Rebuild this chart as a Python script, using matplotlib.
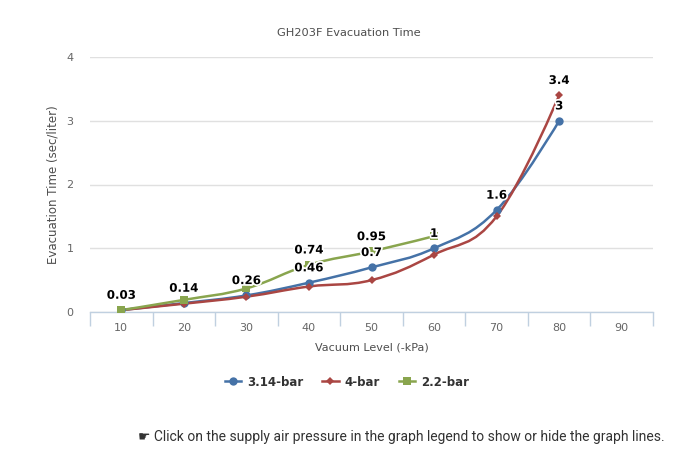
import matplotlib.pyplot as plt
import matplotlib.patheffects as pe
from matplotlib.path import Path
from matplotlib.patches import PathPatch
from matplotlib.lines import Line2D

# Datos
vacuum = [10, 20, 30, 40, 50, 60, 70, 80]
bar_314 = [0.03, 0.14, 0.26, 0.46, 0.7, 1.0, 1.6, 3.0]
bar_4 = [0.03, 0.13, 0.24, 0.4, 0.5, 0.9, 1.5, 3.4]
vacuum_22 = [10, 20, 30, 40, 50, 60]
bar_22 = [0.03, 0.19, 0.37, 0.74, 0.95, 1.19]
x_labels = [10, 20, 30, 40, 50, 60, 70, 80, 90]

# etiquetas visibles: índices de puntos por serie
labels_314 = [0, 1, 2, 3, 4, 5, 6, 7]
labels_4 = [7]
labels_22 = [3, 4]

blue = '#4572A7'
red = '#AA4643'
green = '#89A54E'


def spline_path(xs, ys, smoothing=1.5):
    # curva tipo "spline" con controles Bezier
    denom = smoothing + 1
    verts = [(xs[0], ys[0])]
    codes = [Path.MOVETO]
    ctrl = []
    n = len(xs)
    for i in range(n):
        x, y = xs[i], ys[i]
        if 0 < i < n - 1:
            px, py = xs[i - 1], ys[i - 1]
            nx, ny = xs[i + 1], ys[i + 1]
            lx = (smoothing * x + px) / denom
            ly = (smoothing * y + py) / denom
            rx = (smoothing * x + nx) / denom
            ry = (smoothing * y + ny) / denom
            if rx != lx:
                corr = ((ry - ly) * (rx - x)) / (rx - lx) + y - ry
                ly += corr
                ry += corr
            if ly > py and ly > y:
                ly = max(py, y)
                ry = 2 * y - ly
            elif ly < py and ly < y:
                ly = min(py, y)
                ry = 2 * y - ly
            if ry > ny and ry > y:
                ry = max(ny, y)
                ly = 2 * y - ry
            elif ry < ny and ry < y:
                ry = min(ny, y)
                ly = 2 * y - ry
            ctrl.append(((lx, ly), (rx, ry)))
        else:
            ctrl.append(((x, y), (x, y)))
    for i in range(1, n):
        verts += [ctrl[i - 1][1], ctrl[i][0], (xs[i], ys[i])]
        codes += [Path.CURVE4] * 3
    return Path(verts, codes)


fig = plt.figure(figsize=(6.97, 4.51), dpi=100)
ax = fig.add_axes([90 / 697, 1 - 312 / 451, 563 / 697, 255 / 451])

series = [
    (vacuum, bar_314, blue, 'o', 6, '3.14-bar', labels_314),
    (vacuum, bar_4, red, 'D', 4.5, '4-bar', labels_4),
    (vacuum_22, bar_22, green, 's', 6, '2.2-bar', labels_22),
]

handles = []
for xs, ys, col, mk, ms, name, labs in series:
    ax.add_patch(PathPatch(spline_path(xs, ys), fill=False, edgecolor=col,
                           lw=1.8, zorder=3, capstyle='round', joinstyle='round'))
    ax.plot(xs, ys, linestyle='none', marker=mk, color=col, markersize=ms,
            markeredgewidth=0, zorder=4)
    handles.append(Line2D([], [], color=col, lw=1.8, marker=mk, markersize=ms,
                          markeredgewidth=0))
    for i in labs:
        v = ys[i]
        ax.annotate('%g' % v, (xs[i], v), xytext=(0, 6), textcoords='offset points',
                    ha='center', va='bottom', fontsize=8.5, fontweight='bold',
                    color='black', zorder=6,
                    path_effects=[pe.withStroke(linewidth=2.5, foreground='white')])

ax.set_xlim(5, 95)
ax.set_ylim(0, 4)
ax.set_yticks([0, 1, 2, 3, 4])
ax.set_xticks(x_labels)
ax.set_xticks([5 + 10 * k for k in range(10)], minor=True)
ax.tick_params(axis='x', which='major', length=0, labelsize=8, colors='#666666', pad=8)
ax.tick_params(axis='x', which='minor', length=10, width=1, color='#C0D0E0')
ax.tick_params(axis='y', length=0, labelsize=8, colors='#666666', pad=12)
ax.grid(axis='y', color='#E0E0E0', lw=1)
ax.set_axisbelow(True)
for s in ['top', 'right', 'left']:
    ax.spines[s].set_visible(False)
ax.spines['bottom'].set_color('#C0D0E0')
ax.spines['bottom'].set_linewidth(1)

fig.text(0.5, 1 - 33 / 451, 'GH203F Evacuation Time', ha='center', va='center',
         fontsize=8.2, color='#4D4D4D')
ax.set_xlabel('Vacuum Level (-kPa)', fontsize=8, color='#4D4D4D', labelpad=7)
ax.set_ylabel('Evacuation Time (sec/liter)', fontsize=8.5, color='#4D4D4D', labelpad=5)

leg = fig.legend(handles, [s[5] for s in series], loc='center',
                 bbox_to_anchor=(347 / 697, 1 - 382 / 451), ncol=3, frameon=False,
                 prop={'weight': 'bold', 'size': 8.5}, handlelength=1.4,
                 columnspacing=1.6, handletextpad=0.5)
for t in leg.get_texts():
    t.set_color('#333333')

fig.text(665 / 697, 1 - 437 / 451,
         '\u261b Click on the supply air pressure in the graph legend to show or hide the graph lines.',
         ha='right', va='center', fontsize=10, color='#333333',
         family=['Roboto', 'DejaVu Sans'])

fig.savefig('out.png', dpi=100)
